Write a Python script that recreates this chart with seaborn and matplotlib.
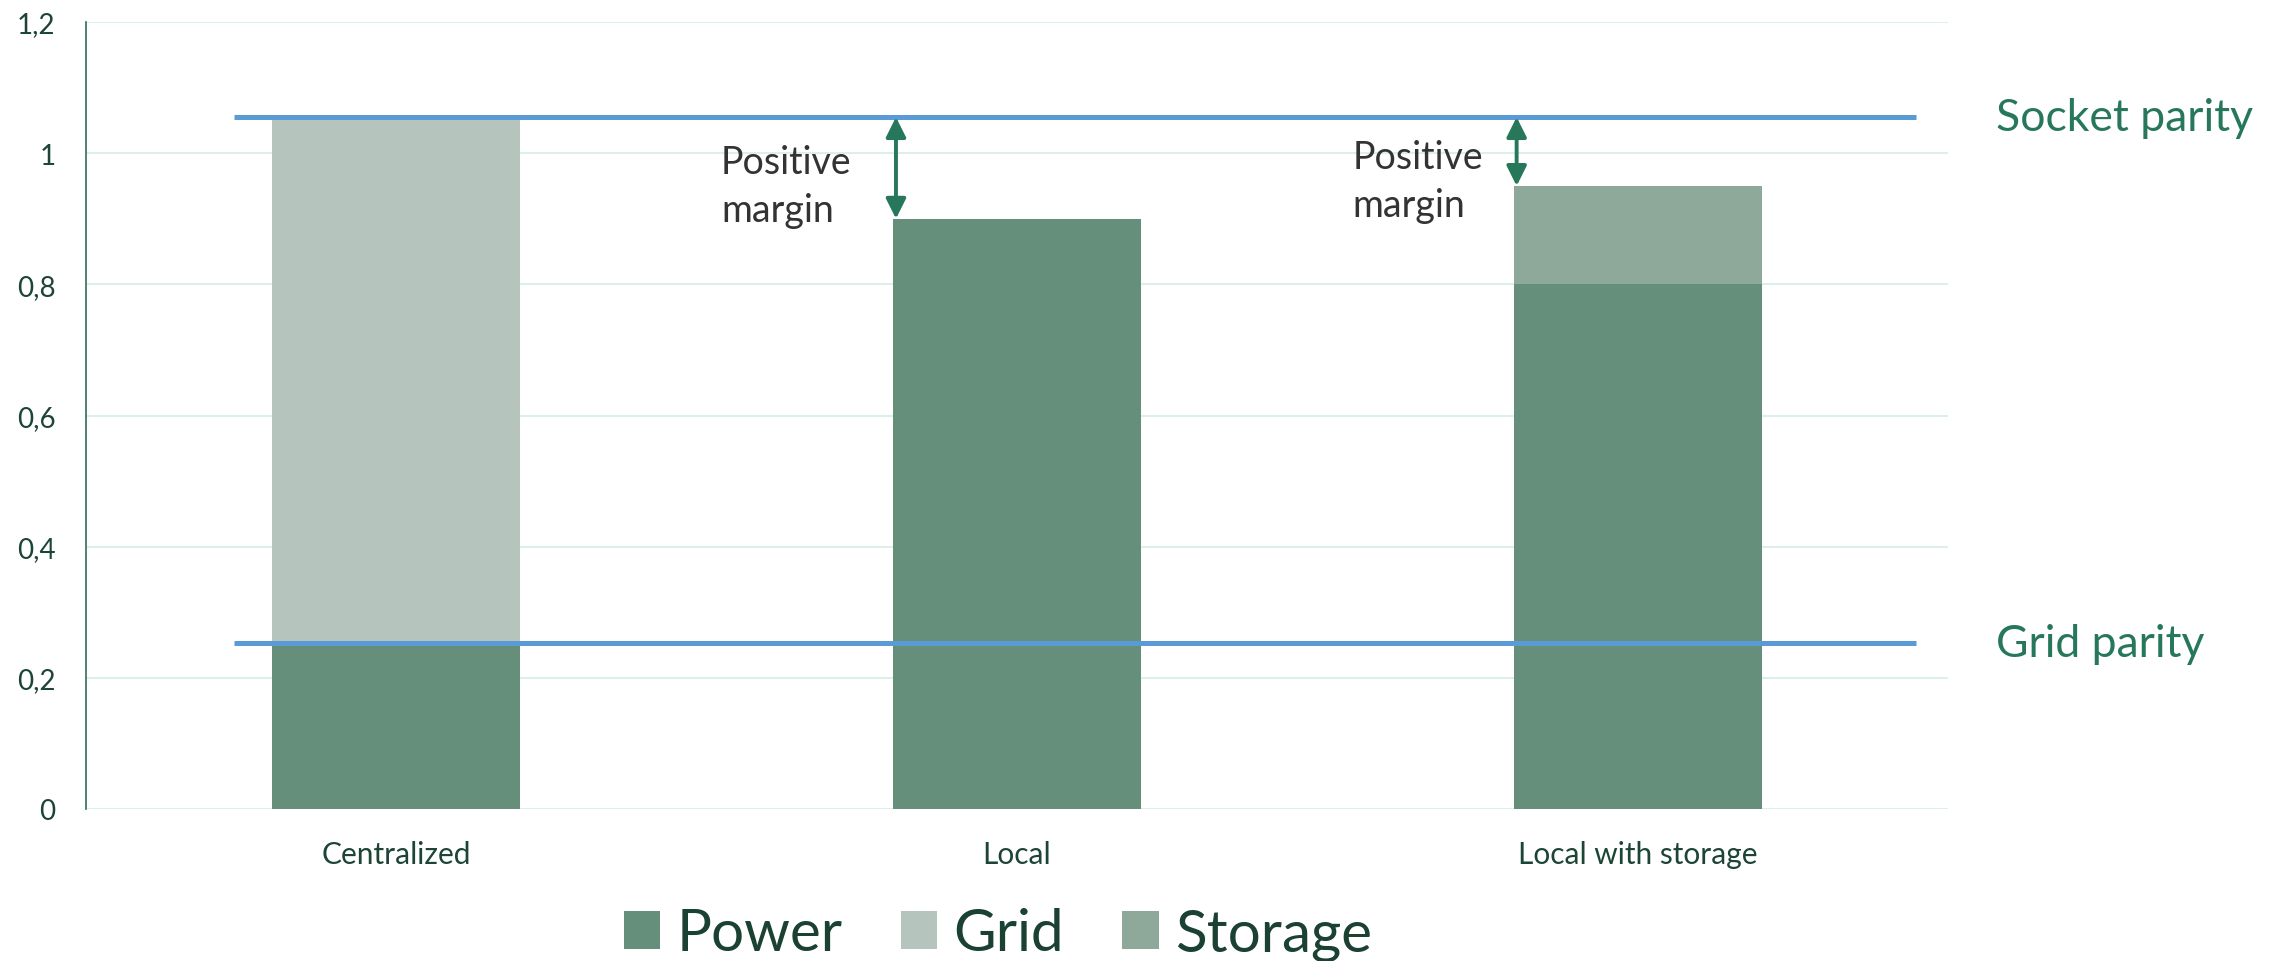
import matplotlib
matplotlib.use("Agg")
import matplotlib.pyplot as plt
from matplotlib.patches import Patch
import numpy as np
import seaborn as sns

# Cost components per supply option
categories = ["Centralized", "Local", "Local with storage"]
power = [0.25, 0.90, 0.80]
grid = [0.80, 0.0, 0.0]
storage = [0.0, 0.0, 0.15]

# Reference price levels
socket_parity = 1.055
grid_parity = 0.253

y_ticks = [0, 0.2, 0.4, 0.6, 0.8, 1.0, 1.2]
y_tick_labels = ["0", "0,2", "0,4", "0,6", "0,8", "1", "1,2"]

series_names = ["Power", "Grid", "Storage"]
series_colors = ["#668F7B", "#B5C4BC", "#8EA89A"]

LINE_BLUE = "#5B9BD5"
LABEL_GREEN = "#27775B"
TICK_GREEN = "#1D4535"
LEGEND_GREEN = "#1A4131"
GRID_MINT = "#DCF0E9"

sns.set_theme(style="white")
plt.rcParams["font.family"] = ["Lato", "DejaVu Sans"]

fig = plt.figure(figsize=(22.8, 9.62), dpi=100)
ax = fig.add_axes([86 / 2280, 152 / 962, 1862 / 2280, 787 / 962])

bar_w = 0.4
power_arr = np.array(power)
grid_arr = np.array(grid)
storage_arr = np.array(storage)

sns.barplot(x=categories, y=power, color=series_colors[0], saturation=1,
            width=bar_w, errorbar=None, linewidth=0, ax=ax, zorder=2)
sns.barplot(x=categories, y=grid, bottom=power_arr, color=series_colors[1],
            saturation=1, width=bar_w, errorbar=None, linewidth=0, ax=ax, zorder=2)
sns.barplot(x=categories, y=storage, bottom=power_arr + grid_arr,
            color=series_colors[2], saturation=1, width=bar_w, errorbar=None,
            linewidth=0, ax=ax, zorder=2)

ax.set_xlim(-0.5, len(categories) - 0.5)
ax.set_ylim(0, 1.2)
ax.set_yticks(y_ticks)
ax.set_yticklabels(y_tick_labels)
ax.set_xlabel("")
ax.set_ylabel("")

# Horizontal grid
ax.yaxis.grid(True, color=GRID_MINT, linewidth=1.5, zorder=0)
ax.xaxis.grid(False)
ax.set_axisbelow(True)

for side in ["top", "right", "bottom"]:
    ax.spines[side].set_visible(False)
ax.spines["left"].set_color("#2F6F56")
ax.spines["left"].set_linewidth(1.2)

ax.tick_params(axis="y", length=0, pad=22, labelsize=20, labelcolor=TICK_GREEN)
ax.tick_params(axis="x", length=0, pad=22, labelsize=21.5, labelcolor=TICK_GREEN)

# Parity lines
x_line = [-0.262, 2.448]
ax.plot(x_line, [socket_parity] * 2, color=LINE_BLUE, linewidth=3.6,
        solid_capstyle="butt", zorder=3)
ax.plot(x_line, [grid_parity] * 2, color=LINE_BLUE, linewidth=3.6,
        solid_capstyle="butt", zorder=3)

ax.text(2.577, socket_parity, "Socket parity", color=LABEL_GREEN, fontsize=32,
        va="center", ha="left", clip_on=False)
ax.text(2.577, grid_parity, "Grid parity", color=LABEL_GREEN, fontsize=32,
        va="center", ha="left", clip_on=False)

# Margin arrows between socket parity and the bar tops
totals = power_arr + grid_arr + storage_arr
for i, txt_x, txt_y in [(1, 0.523, 0.950), (2, 1.541, 0.958)]:
    ax_x = i - bar_w / 2 + 0.005
    ax.annotate("", xy=(ax_x, totals[i]), xytext=(ax_x, socket_parity),
                arrowprops=dict(arrowstyle="<|-|>,head_length=1.2,head_width=0.6",
                                color=LABEL_GREEN, lw=2.8, shrinkA=0, shrinkB=0,
                                mutation_scale=10),
                zorder=4)
    ax.text(txt_x, txt_y, "Positive\nmargin", color="#333333", fontsize=27,
            ha="left", va="center", linespacing=1.4)

handles = [Patch(facecolor=c, edgecolor="none") for c in series_colors]
leg = fig.legend(handles, series_names, loc="center",
                 bbox_to_anchor=(998 / 2280, 1 - 935 / 962), ncol=3, frameon=False,
                 fontsize=42, handlelength=0.62, handleheight=0.62,
                 handletextpad=0.28, columnspacing=1.0, borderpad=0, borderaxespad=0)
for t in leg.get_texts():
    t.set_color(LEGEND_GREEN)

fig.savefig("out.png", dpi=100, facecolor="white")
